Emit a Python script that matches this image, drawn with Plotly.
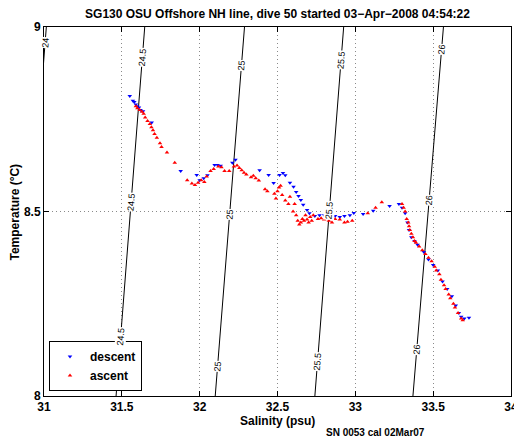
import plotly.graph_objects as go

# ---- data ----
descent_S = [31.551, 31.571, 31.580, 31.590, 31.598, 31.610, 31.620, 31.636, 31.692,
             31.878, 31.981, 32.000, 32.026, 32.050, 32.096, 32.115, 32.135, 32.210,
             32.230, 32.385, 32.443, 32.475, 32.513, 32.535, 32.550, 32.580, 32.603,
             32.620, 32.635, 32.650, 32.665, 32.690, 32.705, 32.740, 32.770, 32.800,
             32.830, 32.870, 32.900, 32.930, 32.965, 32.990, 33.050, 33.115, 33.220,
             33.280, 33.300, 33.320, 33.335, 33.345, 33.360, 33.380, 33.400, 33.440,
             33.470, 33.500, 33.530, 33.560, 33.590, 33.620, 33.645, 33.665, 33.680,
             33.700, 33.730]
descent_T = [8.813, 8.800, 8.797, 8.790, 8.785, 8.782, 8.775, 8.772, 8.741,
             8.610, 8.599, 8.585, 8.590, 8.598, 8.626, 8.626, 8.624, 8.632,
             8.640, 8.612, 8.599, 8.577, 8.599, 8.604, 8.598, 8.578, 8.567,
             8.553, 8.542, 8.531, 8.518, 8.504, 8.495, 8.488, 8.490, 8.490,
             8.485, 8.488, 8.485, 8.488, 8.490, 8.496, 8.493, 8.502, 8.515,
             8.520, 8.510, 8.495, 8.470, 8.450, 8.430, 8.420, 8.410, 8.390,
             8.370, 8.355, 8.340, 8.310, 8.290, 8.270, 8.245, 8.225, 8.215,
             8.210, 8.212]

ascent_S = [31.590, 31.600, 31.615, 31.630, 31.640, 31.650, 31.665, 31.680, 31.690,
            31.700, 31.710, 31.725, 31.745, 31.755, 31.790, 31.840, 31.920, 31.950,
            31.970, 31.990, 32.010, 32.030, 32.045, 32.070, 32.090, 32.120, 32.140,
            32.160, 32.190, 32.220, 32.240, 32.255, 32.270, 32.285, 32.300, 32.330,
            32.345, 32.360, 32.380, 32.420, 32.435, 32.480, 32.490, 32.500, 32.510,
            32.520, 32.530, 32.550, 32.570, 32.580, 32.600, 32.610, 32.620, 32.630,
            32.640, 32.650, 32.660, 32.670, 32.680, 32.690, 32.700, 32.710, 32.720,
            32.730, 32.760, 32.780, 32.800, 32.830, 32.850, 32.870, 32.900, 32.930,
            32.950, 32.980, 33.080, 33.130, 33.170,
            33.300, 33.310, 33.320, 33.330, 33.340, 33.345, 33.350, 33.360, 33.370,
            33.380, 33.390, 33.410, 33.430, 33.450, 33.470, 33.490, 33.510, 33.520,
            33.540, 33.550, 33.570, 33.580, 33.600, 33.610, 33.630, 33.640, 33.660,
            33.680, 33.690]
ascent_T = [8.785, 8.780, 8.775, 8.770, 8.765, 8.755, 8.745, 8.737, 8.728,
            8.720, 8.710, 8.700, 8.685, 8.675, 8.660, 8.632, 8.585, 8.576,
            8.572, 8.578, 8.585, 8.580, 8.595, 8.610, 8.615, 8.622, 8.620,
            8.610, 8.610, 8.622, 8.625, 8.618, 8.612, 8.605, 8.600, 8.593,
            8.597, 8.590, 8.584, 8.560, 8.555, 8.548, 8.535, 8.555, 8.565,
            8.570, 8.545, 8.530, 8.520, 8.540, 8.500, 8.520, 8.490, 8.475,
            8.465, 8.470, 8.480, 8.475, 8.490, 8.478, 8.470, 8.485, 8.475,
            8.490, 8.480, 8.482, 8.478, 8.475, 8.470, 8.480, 8.478, 8.470,
            8.472, 8.475, 8.495, 8.510, 8.525,
            8.520, 8.510, 8.500, 8.480, 8.470, 8.460, 8.450, 8.440, 8.430,
            8.420, 8.415, 8.405, 8.395, 8.385, 8.375, 8.365, 8.350, 8.340,
            8.330, 8.315, 8.300, 8.290, 8.275, 8.265, 8.250, 8.240, 8.225,
            8.210, 8.205]

# isopycnal lines (sigma-theta), salinity at T=8 and T=9
sigma_levels = [24, 24.5, 25, 25.5, 26]
sigma_S_at_T8 = [30.830, 31.463, 32.100, 32.740, 33.370]
sigma_S_at_T9 = [31.015, 31.647, 32.288, 32.925, 33.566]
label_T = [[8.958], [8.919, 8.526, 8.16], [8.897, 8.491, 8.079],
           [8.911, 8.504, 8.092], [8.938, 8.531, 8.125]]

x_ticks = [31, 31.5, 32, 32.5, 33, 33.5, 34]
x_ticktext = ["31", "31.5", "32", "32.5", "33", "33.5", "34"]
y_ticks = [8, 8.5, 9]
y_ticktext = ["8", "8.5", "9"]

title = "SG130 OSU Offshore NH line, dive 50 started 03\u2212Apr\u22122008 04:54:22"
x_title = "Salinity (psu)"
y_title = "Temperature (\u00b0C)"
footnote = "SN 0053 cal 02Mar07"

FONT = "Liberation Sans, Arial, sans-serif"
BOLD12 = dict(family=FONT, size=12, color="black", weight="bold")

fig = go.Figure()

annotations = []
for lev, s8, s9, lts in zip(sigma_levels, sigma_S_at_T8, sigma_S_at_T9, label_T):
    fig.add_trace(go.Scatter(x=[s8, s9], y=[8, 9], mode="lines",
                             line=dict(color="black", width=1),
                             showlegend=False, hoverinfo="skip"))
    for t in lts:
        s = s8 + (s9 - s8) * (t - 8)
        annotations.append(dict(x=s, y=t, xref="x", yref="y", text=f"{lev:g}",
                                showarrow=False, textangle=-85.5,
                                font=dict(family=FONT, size=9, color="black"),
                                bgcolor="white", borderpad=0))

fig.add_trace(go.Scatter(x=descent_S, y=descent_T, mode="markers", name="descent",
                         marker=dict(symbol="triangle-down", color="#0000ff", size=4,
                                     line=dict(width=0))))
fig.add_trace(go.Scatter(x=ascent_S, y=ascent_T, mode="markers", name="ascent",
                         marker=dict(symbol="triangle-up", color="#ff0000", size=4,
                                     line=dict(width=0))))

annotations.append(dict(x=0.709, y=-0.1, xref="paper", yref="paper", text=footnote,
                        showarrow=False, font=dict(family=FONT, size=10, color="black",
                                                   weight="bold"),
                        xanchor="center", yanchor="middle"))
annotations.append(dict(x=0.5, y=-0.0678, xref="paper", yref="paper", text=x_title,
                        showarrow=False, font=BOLD12, xanchor="center", yanchor="middle"))
annotations.append(dict(x=-0.0621, y=0.5, xref="paper", yref="paper", text=y_title,
                        showarrow=False, font=BOLD12, textangle=-90,
                        xanchor="center", yanchor="middle"))

axis_common = dict(showline=True, linecolor="black", linewidth=1, mirror="ticks",
                   ticks="inside", ticklen=5, tickcolor="black",
                   showgrid=True, gridcolor="#8a8a8a", griddash="1px,3px", gridwidth=1,
                   zeroline=False, automargin=False,
                   tickfont=BOLD12)

# page body has an 8px margin, so the figure is sized/offset to compensate
fig.update_layout(
    width=514, height=434,
    margin=dict(l=36, r=11, t=19, b=46, autoexpand=False),
    paper_bgcolor="white", plot_bgcolor="white",
    title=dict(text=title, x=0.5243, xanchor="center", y=0.986, yanchor="middle",
               font=BOLD12),
    xaxis=dict(range=[31, 34], tickvals=x_ticks, ticktext=x_ticktext, **axis_common),
    yaxis=dict(range=[8, 9], tickvals=y_ticks, ticktext=y_ticktext, **axis_common),
    legend=dict(x=0.0107, y=0.0136, xanchor="left", yanchor="bottom",
                bgcolor="white", bordercolor="black", borderwidth=1,
                font=BOLD12, tracegroupgap=0, itemwidth=30),
    annotations=annotations,
    showlegend=True,
)

fig.write_html("out.html")
